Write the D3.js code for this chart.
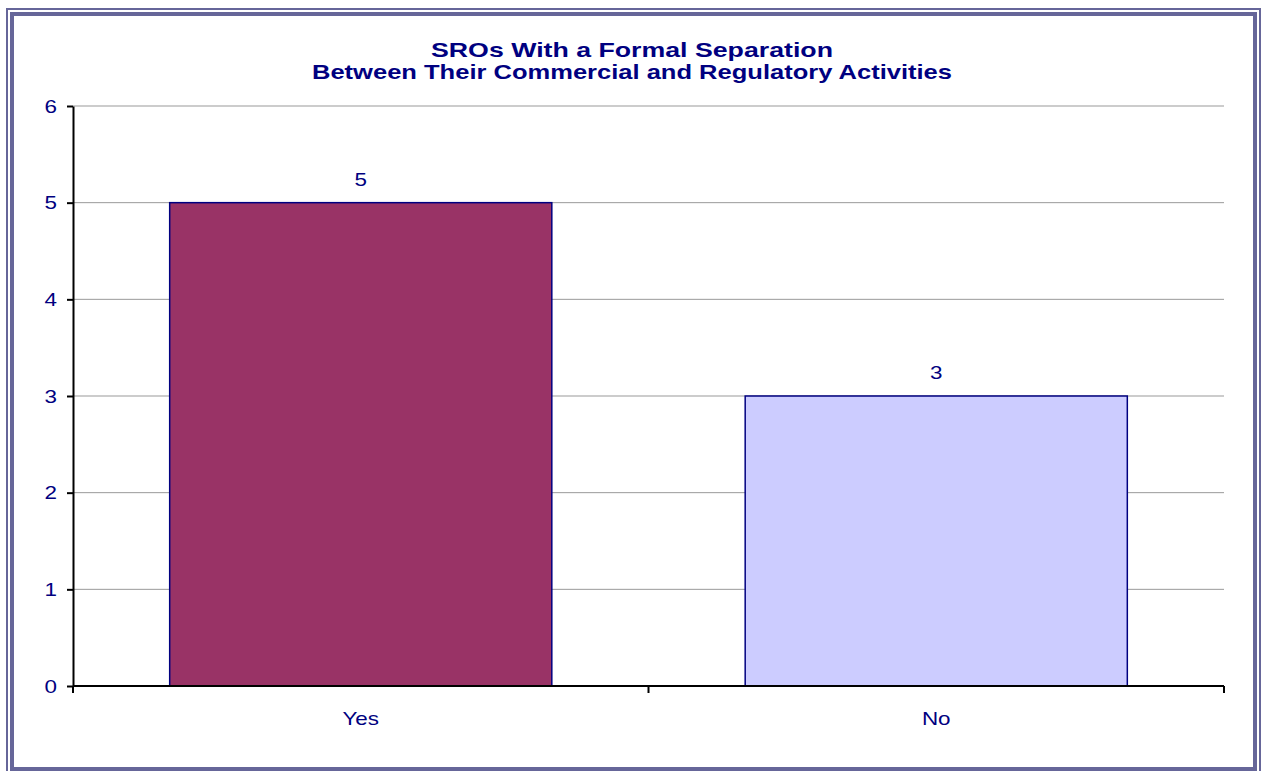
<!DOCTYPE html>
<html>
<head>
<meta charset="utf-8">
<script src="https://cdn.jsdelivr.net/npm/d3@7"></script>
<style>
  body { margin: 0; background: #fff; }
  svg text { font-family: Arial, "Liberation Sans", sans-serif; }
</style>
</head>
<body>
<div id="chart"></div>
<script>
// chart data
const categories = ['Yes', 'No'];
const values = [5, 3];
const barColors = ['#993366', '#CCCCFF'];
const yTicks = [0, 1, 2, 3, 4, 5, 6];
const titleLines = ['SROs With a Formal Separation', 'Between Their Commercial and Regulatory Activities'];

const width = 1262;
const height = 771;
const margin = { top: 106, right: 38, bottom: 85, left: 73 };
const navy = '#000080';
const stretch = 1.18; // text in the source is a bit wider than plain Arial

const svg = d3.select('#chart')
  .append('svg')
  .attr('width', width)
  .attr('height', height);

// double frame
svg.append('rect')
  .attr('x', 7).attr('y', 9)
  .attr('width', 1253).attr('height', 770)
  .attr('fill', 'none')
  .attr('stroke', '#666699')
  .attr('stroke-width', 2);
svg.append('rect')
  .attr('x', 12).attr('y', 14)
  .attr('width', 1243).attr('height', 755)
  .attr('fill', 'none')
  .attr('stroke', '#666699')
  .attr('stroke-width', 4);

const x = d3.scaleBand()
  .domain(categories)
  .range([margin.left, width - margin.right])
  .paddingInner(0.336)
  .paddingOuter(0.168);

const y = d3.scaleLinear()
  .domain([0, 6])
  .range([height - margin.bottom, margin.top]);

// gridlines
svg.append('g')
  .selectAll('line')
  .data(yTicks.filter(d => d > 0))
  .enter()
  .append('line')
  .attr('x1', margin.left)
  .attr('x2', width - margin.right)
  .attr('y1', d => y(d))
  .attr('y2', d => y(d))
  .attr('stroke', '#999999')
  .attr('stroke-width', 1);

// bars
svg.append('g')
  .selectAll('rect')
  .data(categories)
  .enter()
  .append('rect')
  .attr('x', d => x(d))
  .attr('y', (d, i) => y(values[i]))
  .attr('width', x.bandwidth())
  .attr('height', (d, i) => y(0) - y(values[i]))
  .attr('fill', (d, i) => barColors[i])
  .attr('stroke', navy)
  .attr('stroke-width', 1.5);

// value labels
svg.append('g')
  .selectAll('text')
  .data(categories)
  .enter()
  .append('text')
  .attr('class', 'lbl')
  .attr('x', d => x(d) + x.bandwidth() / 2)
  .attr('y', (d, i) => y(values[i]) - 17)
  .attr('text-anchor', 'middle')
  .attr('fill', navy)
  .attr('font-size', 19)
  .text((d, i) => values[i]);

// y axis
const yAxis = svg.append('g')
  .attr('transform', `translate(${margin.left},0)`)
  .call(d3.axisLeft(y).tickValues(yTicks).tickSize(6).tickSizeOuter(0).tickFormat(d3.format('d')));
yAxis.selectAll('path, line').attr('stroke', '#000').attr('stroke-width', 2);
yAxis.selectAll('text')
  .attr('class', 'lbl')
  .attr('fill', navy)
  .attr('font-size', 19)
  .attr('x', -16)
  .attr('font-family', 'Arial, "Liberation Sans", sans-serif');

// x axis, ticks at category boundaries
const boundaries = [margin.left, (margin.left + width - margin.right) / 2, width - margin.right];
const xAxis = svg.append('g');
xAxis.append('line')
  .attr('x1', margin.left)
  .attr('x2', width - margin.right)
  .attr('y1', y(0))
  .attr('y2', y(0))
  .attr('stroke', '#000')
  .attr('stroke-width', 2);
xAxis.selectAll('.tick')
  .data(boundaries)
  .enter()
  .append('line')
  .attr('x1', d => d)
  .attr('x2', d => d)
  .attr('y1', y(0))
  .attr('y2', y(0) + 7)
  .attr('stroke', '#000')
  .attr('stroke-width', 2);
xAxis.selectAll('text')
  .data(categories)
  .enter()
  .append('text')
  .attr('class', 'lbl')
  .attr('x', d => x(d) + x.bandwidth() / 2)
  .attr('y', y(0) + 39)
  .attr('text-anchor', 'middle')
  .attr('fill', navy)
  .attr('font-size', 19)
  .text(d => d);

// widen the labels a little, like the source rendering
svg.selectAll('text.lbl').each(function () {
  const len = this.getComputedTextLength();
  d3.select(this)
    .attr('textLength', len * stretch)
    .attr('lengthAdjust', 'spacingAndGlyphs');
});

// title, stretched to the width it has in the source
const titleWidths = [402, 640];
svg.append('g')
  .selectAll('text')
  .data(titleLines)
  .enter()
  .append('text')
  .attr('x', 632)
  .attr('y', (d, i) => 57 + i * 22)
  .attr('text-anchor', 'middle')
  .attr('fill', navy)
  .attr('font-size', 21)
  .attr('font-weight', 'bold')
  .attr('textLength', (d, i) => titleWidths[i])
  .attr('lengthAdjust', 'spacingAndGlyphs')
  .text(d => d);
</script>
</body>
</html>
